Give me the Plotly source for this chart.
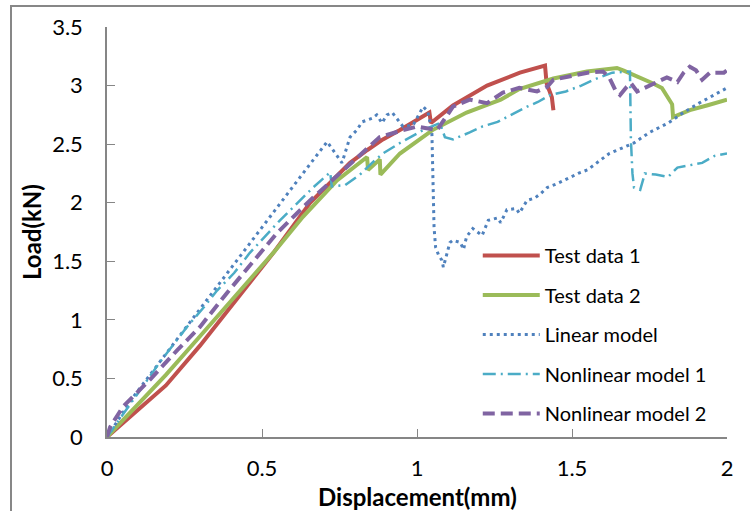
import plotly.graph_objects as go

# ---- data (Displacement mm, Load kN) ----
test1_x = [0, 0.084, 0.19, 0.30, 0.40, 0.539, 0.655, 0.784, 0.84, 0.89, 0.945, 1.04, 1.045, 1.106, 1.116, 1.226, 1.332, 1.413, 1.418, 1.435, 1.44]
test1_y = [0, 0.19, 0.44, 0.78, 1.12, 1.58, 2.00, 2.34, 2.45, 2.54, 2.62, 2.77, 2.68, 2.80, 2.83, 3.00, 3.11, 3.17, 3.02, 2.90, 2.79]

test2_x = [0, 0.084, 0.19, 0.30, 0.40, 0.539, 0.632, 0.742, 0.839, 0.842, 0.88, 0.882, 0.945, 1.05, 1.16, 1.27, 1.33, 1.44, 1.548, 1.645, 1.665, 1.72, 1.76, 1.79, 1.81, 1.823, 1.826, 1.88, 1.935, 2.0]
test2_y = [0, 0.23, 0.53, 0.86, 1.16, 1.58, 1.88, 2.19, 2.39, 2.28, 2.37, 2.24, 2.42, 2.62, 2.77, 2.88, 2.97, 3.06, 3.12, 3.15, 3.13, 3.07, 3.02, 2.98, 2.90, 2.84, 2.73, 2.79, 2.83, 2.88]

linear_x = [0, 0.084, 0.216, 0.323, 0.43, 0.526, 0.632, 0.71, 0.745, 0.758, 0.784, 0.806, 0.823, 0.855, 0.87, 0.887, 0.903, 0.92, 0.955, 0.987, 1.02, 1.035, 1.048, 1.05, 1.052, 1.055, 1.06, 1.07, 1.08, 1.085, 1.097, 1.106, 1.116, 1.14, 1.15, 1.16, 1.18, 1.197, 1.21, 1.23, 1.26, 1.27, 1.29, 1.32, 1.33, 1.355, 1.38, 1.40, 1.42, 1.45, 1.48, 1.52, 1.55, 1.58, 1.62, 1.70, 1.75, 1.81, 1.86, 1.91, 2.0]
linear_y = [0, 0.34, 0.80, 1.17, 1.55, 1.88, 2.25, 2.52, 2.39, 2.34, 2.56, 2.62, 2.69, 2.72, 2.75, 2.68, 2.75, 2.77, 2.65, 2.66, 2.82, 2.78, 2.60, 2.31, 2.02, 1.79, 1.62, 1.55, 1.51, 1.45, 1.57, 1.66, 1.68, 1.66, 1.60, 1.71, 1.78, 1.75, 1.72, 1.85, 1.87, 1.83, 1.94, 1.95, 1.91, 2.02, 2.04, 2.08, 2.13, 2.16, 2.20, 2.25, 2.28, 2.34, 2.42, 2.51, 2.60, 2.68, 2.77, 2.85, 2.98]

nl1_x = [0, 0.171, 0.258, 0.313, 0.355, 0.41, 0.46, 0.558, 0.665, 0.72, 0.725, 0.768, 0.816, 0.855, 0.89, 0.945, 1.02, 1.074, 1.09, 1.116, 1.17, 1.21, 1.26, 1.355, 1.39, 1.43, 1.48, 1.53, 1.57, 1.63, 1.687, 1.69, 1.695, 1.70, 1.72, 1.735, 1.77, 1.81, 1.84, 1.88, 1.92, 1.96, 2.0]
nl1_y = [0, 0.64, 0.94, 1.11, 1.25, 1.40, 1.57, 1.85, 2.13, 2.26, 2.14, 2.15, 2.24, 2.34, 2.42, 2.51, 2.62, 2.68, 2.56, 2.54, 2.60, 2.65, 2.69, 2.82, 2.86, 2.92, 2.95, 3.00, 3.05, 3.11, 3.12, 2.54, 2.25, 2.13, 2.11, 2.25, 2.24, 2.22, 2.30, 2.32, 2.34, 2.40, 2.42]

nl2_x = [0, 0.01, 0.052, 0.139, 0.226, 0.30, 0.387, 0.45, 0.548, 0.655, 0.774, 0.88, 0.955, 1.0, 1.065, 1.116, 1.17, 1.226, 1.277, 1.33, 1.387, 1.42, 1.44, 1.49, 1.55, 1.60, 1.62, 1.64, 1.655, 1.677, 1.69, 1.71, 1.735, 1.77, 1.806, 1.84, 1.86, 1.88, 1.90, 1.92, 1.945, 1.99, 2.0]
nl2_y = [0, 0.085, 0.26, 0.49, 0.74, 0.94, 1.23, 1.43, 1.74, 2.02, 2.30, 2.56, 2.62, 2.65, 2.62, 2.82, 2.88, 2.85, 2.94, 2.98, 2.95, 2.99, 3.05, 3.08, 3.11, 3.12, 3.07, 2.96, 2.92, 2.99, 3.02, 2.95, 2.98, 3.02, 3.07, 3.03, 3.11, 3.16, 3.13, 3.05, 3.11, 3.11, 3.13]

names = ["Test data 1", "Test data 2", "Linear model", "Nonlinear model 1", "Nonlinear model 2"]
colors = ["#C0504D", "#9BBB59", "#4F81BD", "#4BACC6", "#8064A2"]

series = [(test1_x, test1_y), (test2_x, test2_y), (linear_x, linear_y), (nl1_x, nl1_y), (nl2_x, nl2_y)]
styles = [
    dict(width=4, dash="solid"),
    dict(width=4, dash="solid"),
    dict(width=3, dash="3px,4px"),
    dict(width=2.5, dash="13px,5px,2px,5px"),
    dict(width=4, dash="12px,6px"),
]

fig = go.Figure()
for i, ((xs, ys), nm, col, st) in enumerate(zip(series, names, colors, styles)):
    fig.add_trace(go.Scatter(
        x=xs, y=ys, mode="lines", name=nm, legendgroup=f"g{i}",
        line=dict(color=col, width=st["width"], dash=st["dash"]),
    ))

axis_common = dict(
    showgrid=False, zeroline=False, showline=True, linecolor="#868686", linewidth=1.5,
    ticks="inside", ticklen=8, tickcolor="#868686", tickwidth=1,
    tickfont=dict(family="Lato", size=22, color="#000000"),
)

fig.update_layout(
    width=750, height=511,
    margin=dict(l=107, r=23, t=27, b=74),
    paper_bgcolor="white", plot_bgcolor="white",
    font=dict(family="Lato", color="#000000"),
    xaxis=dict(range=[0, 2], dtick=0.5, ticklabelstandoff=11, **axis_common),
    yaxis=dict(range=[0, 3.5], dtick=0.5, ticklabelstandoff=18, **axis_common),
    legend=dict(
        x=0.598, xanchor="left", y=0.49, yanchor="top",
        font=dict(family="Lato", size=20, color="#000000"),
        itemwidth=57, tracegroupgap=10.5, bgcolor="rgba(0,0,0,0)",
    ),
    showlegend=True,
    annotations=[
        dict(text="<b>Load(kN)</b>", xref="paper", yref="paper", x=(31 - 107) / 620, y=0.5,
             textangle=-90, showarrow=False, font=dict(family="Lato", size=24),
             xanchor="center", yanchor="middle"),
        dict(text="<b>Displacement(mm)</b>", xref="paper", yref="paper", x=0.5, y=(437 - 497) / 410,
             showarrow=False, font=dict(family="Lato", size=24),
             xanchor="center", yanchor="middle"),
    ],
    shapes=[
        dict(type="rect", xref="paper", yref="paper",
             x0=(11 - 107) / 620, x1=1.3, y0=-0.5, y1=(437 - 6) / 410,
             line=dict(color="#878787", width=2), fillcolor="rgba(0,0,0,0)", layer="below"),
    ],
)

fig.write_html(
    "out.html",
    config={"displayModeBar": False},
    post_script="document.body.style.margin='0';document.body.style.overflow='hidden';",
)
